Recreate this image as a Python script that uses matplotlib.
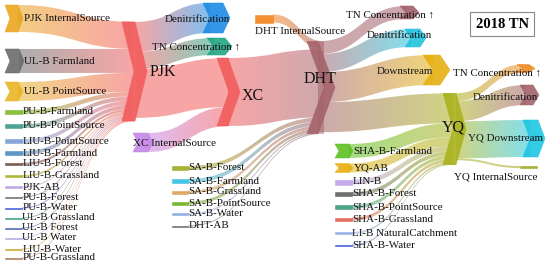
import numpy as np
import matplotlib.pyplot as plt
from matplotlib.path import Path
from matplotlib.patches import PathPatch, Polygon
from matplotlib.colors import to_rgba

plt.rcParams['font.family'] = ['Liberation Serif', 'DejaVu Serif']

pjk_in = ['PJK InternalSource', 'UL-B Farmland', 'UL-B PointSource', 'PU-B-Farmland',
          'PU-B-PointSource', 'LIU-B-PointSource', 'LIU-B-Farmland', 'LIU-B-Forest',
          'LIU-B-Grassland', 'PJK-AB', 'PU-B-Forest', 'PU-B-Water', 'UL-B Grassland',
          'UL-B Forest', 'UL-B Water', 'LIU-B-Water', 'PU-B-Grassland']
pjk_in_val = [27, 24, 19, 4.5, 4, 4, 4, 2.5, 2, 1.2, 1, 1, 1, 1, 1, 1, 1]
pjk_out = ['Denitrification', 'TN Concentration ↑', 'XC']
pjk_out_val = [30, 17, 49]

xc_in = ['PJK', 'XC InternalSource']
xc_in_val = [49, 19]
xc_out = ['DHT']
xc_out_val = [68]

dht_in = ['DHT InternalSource', 'XC', 'SA-B-Forest', 'SA-B-Farmland', 'SA-B-Grassland',
          'SA-B-PointSource', 'SA-B-Water', 'DHT-AB']
dht_in_val = [8, 68, 4, 4, 3, 3, 1.5, 1]
dht_out = ['TN Concentration ↑', 'Denitrification', 'Downstream', 'YQ']
dht_out_val = [13, 18, 30, 30]

yq_in = ['DHT', 'SHA-B-Farmland', 'YQ-AB', 'LIN-B', 'SHA-B-Forest', 'SHA-B-PointSource',
         'SHA-B-Grassland', 'LI-B NaturalCatchment', 'SHA-B-Water']
yq_in_val = [30, 14, 9, 5, 4, 3.5, 3, 2, 1]
yq_out = ['TN Concentration ↑', 'Denitrification', 'YQ Downstream', 'YQ InternalSource']
yq_out_val = [8, 20, 37, 2]

reaches = [('PJK', pjk_in, pjk_in_val, pjk_out, pjk_out_val),
           ('XC', xc_in, xc_in_val, xc_out, xc_out_val),
           ('DHT', dht_in, dht_in_val, dht_out, dht_out_val),
           ('YQ', yq_in, yq_in_val, yq_out, yq_out_val)]
main = ['PJK', 'XC', 'DHT', 'YQ']

# layout: x, y centre, width, tip depth, colour
layout = {
    'PJK InternalSource': (5, 18.5, 13, 5, '#EAA51E'),
    'UL-B Farmland': (5, 61, 14, 5, '#6B6B6B'),
    'UL-B PointSource': (5, 91.5, 13, 5, '#E9B424'),
    'PU-B-Farmland': (5, 112, 17, 0, '#7CB82A'),
    'PU-B-PointSource': (5, 126, 17, 0, '#3A9A8A'),
    'LIU-B-PointSource': (5, 141, 17, 0, '#7A9ED8'),
    'LIU-B-Farmland': (5, 153, 17, 0, '#4A8CC0'),
    'LIU-B-Forest': (5, 164, 17, 0, '#6B4A3A'),
    'LIU-B-Grassland': (5, 176, 17, 0, '#A8B020'),
    'PJK-AB': (5, 187, 17, 0, '#B8A0E0'),
    'PU-B-Forest': (5, 197, 17, 0, '#606060'),
    'PU-B-Water': (5, 208, 17, 0, '#3050D0'),
    'UL-B Grassland': (5, 218, 17, 0, '#2E9A6A'),
    'UL-B Forest': (5, 228, 17, 0, '#3A5AA8'),
    'UL-B Water': (5, 238, 17, 0, '#B0A0E0'),
    'LIU-B-Water': (5, 249, 17, 0, '#C8A020'),
    'PU-B-Grassland': (5, 258, 17, 0, '#A07050'),
    'PJK': (122, 71.5, 13, 12, '#F25C5C'),
    'PJK/Denitrification': (203, 18, 20, 7, '#1E8BE6'),
    'PJK/TN Concentration ↑': (207, 46.5, 18, 7, '#22A585'),
    'XC InternalSource': (133, 142.5, 15, 5, '#C585E6'),
    'XC': (217, 92, 11, 12, '#F25C5C'),
    'DHT InternalSource': (255, 18.5, 18, 0, '#F2841E'),
    'SA-B-Forest': (172, 168, 16, 0, '#A0A820'),
    'SA-B-Farmland': (172, 181, 16, 0, '#30C0E0'),
    'SA-B-Grassland': (172, 192, 16, 0, '#D8A050'),
    'SA-B-PointSource': (172, 203, 16, 0, '#6AB020'),
    'SA-B-Water': (172, 214, 16, 0, '#8AA8E0'),
    'DHT-AB': (172, 226, 16, 0, '#606060'),
    'DHT': (307, 87.5, 11, 17, '#A5636B'),
    'DHT/TN Concentration ↑': (400, 12.5, 13, 6, '#A0606C'),
    'DHT/Denitrification': (405, 38, 15, 6, '#1FC3DF'),
    'DHT/Downstream': (423, 70, 17, 10, '#E6B012'),
    'SHA-B-Farmland': (335, 151, 14, 4, '#5CC020'),
    'YQ-AB': (335, 168, 14, 4, '#E6B012'),
    'LIN-B': (335, 182, 17, 0, '#C0A0E8'),
    'SHA-B-Forest': (335, 194, 17, 0, '#606060'),
    'SHA-B-PointSource': (335, 207, 17, 0, '#3A9A7A'),
    'SHA-B-Grassland': (335, 219, 17, 0, '#E06050'),
    'LI-B NaturalCatchment': (335, 233, 17, 0, '#90A8E0'),
    'SHA-B-Water': (335, 245, 17, 0, '#3050D0'),
    'YQ': (443, 129, 13, 10, '#A9B21C'),
    'YQ/TN Concentration ↑': (517, 68.5, 12, 6, '#EE8A22'),
    'YQ/Denitrification': (520, 95, 13, 6, '#A3636B'),
    'YQ/YQ Downstream': (523, 138.5, 15, 7, '#1EC6E2'),
    'YQ/YQ InternalSource': (520, 167, 17, 0, '#A0A820'),
}

# label overrides: x, y, ha, size
fs_lab = 7.9
labels = {
    'PJK': (150, 72, 'left', 11.5),
    'XC': (242, 96, 'left', 11.5),
    'DHT': (320, 79, 'center', 11.5),
    'YQ': (453, 127, 'center', 11.5),
    'XC InternalSource': (133, 143, 'left', fs_lab),
    'DHT InternalSource': (255, 32, 'left', fs_lab),
    'PJK/Denitrification': (230, 19, 'right', fs_lab),
    'PJK/TN Concentration ↑': (240, 47, 'right', fs_lab),
    'DHT/TN Concentration ↑': (434, 15, 'right', fs_lab),
    'DHT/Denitrification': (432, 36, 'right', fs_lab),
    'DHT/Downstream': (433, 72, 'right', fs_lab),
    'YQ/TN Concentration ↑': (541, 73, 'right', fs_lab),
    'YQ/Denitrification': (538, 97, 'right', fs_lab),
    'YQ/YQ Downstream': (543, 138, 'right', fs_lab),
    'YQ/YQ InternalSource': (537, 177, 'right', fs_lab),
}

# build flows
flows = {}
in_order, out_order = {}, {}
for r, ins, ins_v, outs, outs_v in reaches:
    for name, v in zip(ins, ins_v):
        key = (name, r)
        flows[key] = v
        in_order.setdefault(r, []).append(key)
        if name not in main:
            out_order.setdefault(name, []).append(key)
    for name, v in zip(outs, outs_v):
        tgt = name if name in main else r + '/' + name
        key = (r, tgt)
        flows[key] = v
        out_order.setdefault(r, []).append(key)
        if tgt not in main:
            in_order.setdefault(tgt, []).append(key)

scale = 1.0
height = {}
for n in layout:
    s_in = sum(flows[k] for k in in_order.get(n, []))
    s_out = sum(flows[k] for k in out_order.get(n, []))
    height[n] = max(s_in, s_out) * scale

top = {n: layout[n][1] - height[n] / 2 for n in layout}

# band offsets
src_pos, tgt_pos = {}, {}
for n, keys in out_order.items():
    y = top[n]
    for k in keys:
        src_pos[k] = y
        y += flows[k] * scale
for n, keys in in_order.items():
    y = top[n]
    for k in keys:
        tgt_pos[k] = y
        y += flows[k] * scale

fig = plt.figure(figsize=(5.5, 2.67), dpi=100)
ax = fig.add_axes([0, 0, 1, 1])


def band(xs, ys, xt, yt, h, c0, c1, alpha=0.55):
    xm = (xs + xt) / 2
    verts = [(xs, ys), (xm, ys), (xm, yt), (xt, yt), (xt, yt + h),
             (xm, yt + h), (xm, ys + h), (xs, ys + h), (xs, ys)]
    codes = [Path.MOVETO, Path.CURVE4, Path.CURVE4, Path.CURVE4, Path.LINETO,
             Path.CURVE4, Path.CURVE4, Path.CURVE4, Path.CLOSEPOLY]
    patch = PathPatch(Path(verts, codes), facecolor='none', edgecolor='none')
    ax.add_patch(patch)
    t = np.linspace(0, 1, 64)[:, None]
    a, b = np.array(to_rgba(c0)), np.array(to_rgba(c1))
    row = (1 - t) * a + t * b
    row[:, 3] = alpha
    img = np.stack([row, row])
    ymin, ymax = min(ys, yt) - 1, max(ys, yt) + h + 1
    im = ax.imshow(img, extent=(xs, xt, ymax, ymin), aspect='auto',
                   interpolation='bilinear', zorder=1)
    im.set_clip_path(patch)


for (s, t), v in flows.items():
    xs = layout[s][0] + layout[s][2]
    xt = layout[t][0] + layout[t][3]
    band(xs, src_pos[(s, t)], xt, tgt_pos[(s, t)], v * scale, layout[s][4], layout[t][4])

for n, (x, yc, w, d, col) in layout.items():
    y0, h = top[n], height[n]
    pts = [(x, y0), (x + w, y0), (x + w + d, y0 + h / 2), (x + w, y0 + h),
           (x, y0 + h), (x + d, y0 + h / 2)]
    ax.add_patch(Polygon(pts, closed=True, facecolor=col, edgecolor=col,
                         lw=0.4, alpha=0.9, zorder=3))
    if n in labels:
        lx, ly, ha, fs = labels[n]
    else:
        lx, ly, ha, fs = x + w + d + 0.5, yc, 'left', fs_lab
    ax.text(lx, ly, n.split('/')[-1], ha=ha, va='center', fontsize=fs,
            color='#111111', zorder=4)

ax.text(502, 24, '2018 TN', ha='center', va='center', fontsize=10.5,
        fontweight='bold', zorder=5,
        bbox=dict(boxstyle='square,pad=0.35', facecolor='white', edgecolor='#888888', lw=0.8))

ax.set_xlim(0, 550)
ax.set_ylim(267, 0)
ax.set_aspect('auto')
ax.axis('off')

plt.savefig('out.png', dpi=100)
